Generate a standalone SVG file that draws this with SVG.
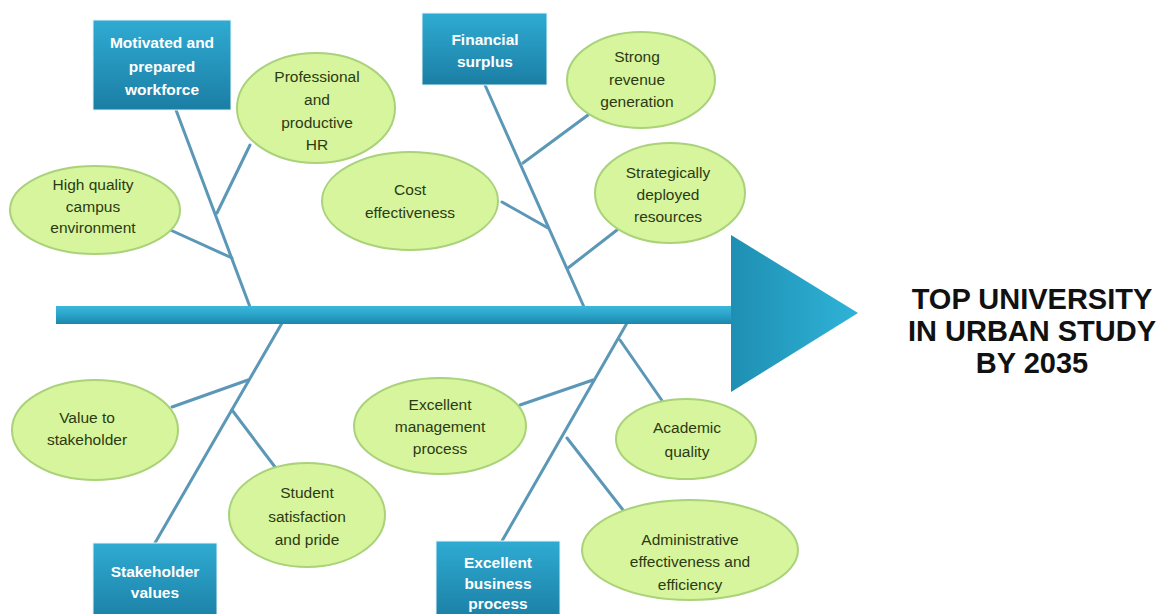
<svg xmlns="http://www.w3.org/2000/svg" width="1172" height="614" viewBox="0 0 1172 614">
<defs>
<linearGradient id="boxg" x1="0" y1="0" x2="0" y2="1">
<stop offset="0" stop-color="#2fabd2"/>
<stop offset="1" stop-color="#1b7ea4"/>
</linearGradient>
<linearGradient id="spineg" x1="0" y1="0" x2="0" y2="1">
<stop offset="0" stop-color="#3cb8dc"/>
<stop offset="0.5" stop-color="#2aa3c9"/>
<stop offset="1" stop-color="#1d86ab"/>
</linearGradient>
<linearGradient id="headg" x1="0" y1="0" x2="1" y2="0">
<stop offset="0" stop-color="#1e8fb2"/>
<stop offset="1" stop-color="#2fb3d8"/>
</linearGradient>
<style>
.box{fill:url(#boxg);stroke:#e8f6fb;stroke-width:1}
.bt{font-family:"Liberation Sans",Arial,sans-serif;font-weight:bold;font-size:15.5px;fill:#ffffff;text-anchor:middle}
.ell{fill:#d6f59c;stroke:#a9d27a;stroke-width:2}
.et{font-family:"Liberation Sans",Arial,sans-serif;font-size:15.5px;fill:#2c3a14;text-anchor:middle}
.bone{stroke:#5b97b6;stroke-width:3;fill:none;stroke-linecap:round}
.goal{font-family:"Liberation Sans",Arial,sans-serif;font-weight:bold;font-size:29px;fill:#111111;text-anchor:middle}
</style>
</defs>
<rect width="1172" height="614" fill="#ffffff"/>
<g id="connectors">
<line class="bone" x1="176" y1="110" x2="250" y2="307"/>
<line class="bone" x1="250" y1="145" x2="217" y2="213"/>
<line class="bone" x1="155" y1="223" x2="232" y2="258"/>
<line class="bone" x1="485" y1="85" x2="584" y2="307"/>
<line class="bone" x1="588" y1="115" x2="523" y2="163"/>
<line class="bone" x1="502" y1="202" x2="548" y2="228"/>
<line class="bone" x1="617" y1="230" x2="568" y2="268"/>
<line class="bone" x1="282" y1="323" x2="155" y2="543"/>
<line class="bone" x1="172" y1="407" x2="248" y2="380"/>
<line class="bone" x1="232" y1="410" x2="275" y2="467"/>
<line class="bone" x1="627" y1="323" x2="502" y2="541"/>
<line class="bone" x1="520" y1="405" x2="593" y2="380"/>
<line class="bone" x1="620" y1="340" x2="663" y2="402"/>
<line class="bone" x1="567" y1="438" x2="623" y2="510"/>
</g>
<g id="spine">
<rect x="56" y="306" width="680" height="18" fill="url(#spineg)"/>
<polygon points="731,235 858,313 731,392" fill="url(#headg)"/>
</g>
<g id="goal">
<text class="goal" x="1032" y="309">TOP UNIVERSITY</text>
<text class="goal" x="1032" y="341">IN URBAN STUDY</text>
<text class="goal" x="1032" y="373">BY 2035</text>
</g>
<g id="box-workforce">
<rect class="box" x="93" y="20" width="138" height="90"/>
<text class="bt" x="162" y="48">Motivated and</text>
<text class="bt" x="162" y="72">prepared</text>
<text class="bt" x="162" y="95">workforce</text>
</g>
<g id="box-financial">
<rect class="box" x="422" y="13" width="125" height="72"/>
<text class="bt" x="485" y="45">Financial</text>
<text class="bt" x="485" y="67">surplus</text>
</g>
<g id="box-stakeholder">
<rect class="box" x="93" y="543" width="124" height="80"/>
<text class="bt" x="155" y="577">Stakeholder</text>
<text class="bt" x="155" y="598">values</text>
</g>
<g id="box-business">
<rect class="box" x="436" y="541" width="124" height="80"/>
<text class="bt" x="498" y="568">Excellent</text>
<text class="bt" x="498" y="589">business</text>
<text class="bt" x="498" y="609">process</text>
</g>
<g id="ell-hr">
<ellipse class="ell" cx="316" cy="108" rx="79" ry="55"/>
<text class="et" x="317" y="82">Professional</text>
<text class="et" x="317" y="105">and</text>
<text class="et" x="317" y="128">productive</text>
<text class="et" x="317" y="150">HR</text>
</g>
<g id="ell-campus">
<ellipse class="ell" cx="95" cy="210" rx="85" ry="44"/>
<text class="et" x="93" y="190">High quality</text>
<text class="et" x="93" y="212">campus</text>
<text class="et" x="93" y="233">environment</text>
</g>
<g id="ell-cost">
<ellipse class="ell" cx="410" cy="201" rx="88" ry="49"/>
<text class="et" x="410" y="195">Cost</text>
<text class="et" x="410" y="218">effectiveness</text>
</g>
<g id="ell-revenue">
<ellipse class="ell" cx="641" cy="80" rx="74" ry="48"/>
<text class="et" x="637" y="62">Strong</text>
<text class="et" x="637" y="85">revenue</text>
<text class="et" x="637" y="107">generation</text>
</g>
<g id="ell-resources">
<ellipse class="ell" cx="670" cy="193" rx="75" ry="50"/>
<text class="et" x="668" y="178">Strategically</text>
<text class="et" x="668" y="200">deployed</text>
<text class="et" x="668" y="222">resources</text>
</g>
<g id="ell-value">
<ellipse class="ell" cx="95" cy="430" rx="83" ry="50"/>
<text class="et" x="87" y="423">Value to</text>
<text class="et" x="87" y="445">stakeholder</text>
</g>
<g id="ell-student">
<ellipse class="ell" cx="307" cy="515" rx="78" ry="52"/>
<text class="et" x="307" y="498">Student</text>
<text class="et" x="307" y="522">satisfaction</text>
<text class="et" x="307" y="545">and pride</text>
</g>
<g id="ell-management">
<ellipse class="ell" cx="440" cy="426" rx="86" ry="48"/>
<text class="et" x="440" y="410">Excellent</text>
<text class="et" x="440" y="432">management</text>
<text class="et" x="440" y="454">process</text>
</g>
<g id="ell-academic">
<ellipse class="ell" cx="686" cy="439" rx="70" ry="40"/>
<text class="et" x="687" y="433">Academic</text>
<text class="et" x="687" y="457">quality</text>
</g>
<g id="ell-admin">
<ellipse class="ell" cx="690" cy="550" rx="108" ry="50"/>
<text class="et" x="690" y="545">Administrative</text>
<text class="et" x="690" y="567">effectiveness and</text>
<text class="et" x="690" y="590">efficiency</text>
</g>
</svg>
